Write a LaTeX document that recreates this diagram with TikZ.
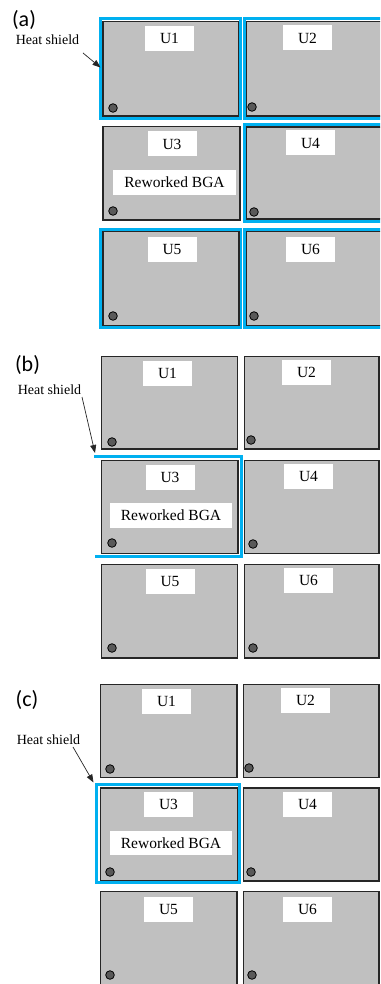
\documentclass[tikz,border=0pt]{standalone}
\usepackage{fontspec}
\setmainfont{Liberation Serif}
\newfontfamily\panelfont{Carlito}
\usetikzlibrary{arrows.meta,fit}
\definecolor{chipgray}{HTML}{C0C0C0}
\definecolor{shieldblue}{HTML}{00B0F0}
\definecolor{dotgray}{HTML}{595959}
\tikzset{
  chip/.style={draw=black!85, line width=1.6pt, fill=chipgray, inner sep=0pt},
  shieldline/.style={draw=shieldblue, line width=3.3pt},
  lbl/.style={fill=white, inner sep=0pt, minimum width=49pt, minimum height=25pt, font=\fontsize{15.5}{17}\selectfont},
  rbga/.style={lbl, minimum width=123pt},
  pin/.style={circle, draw=black, line width=0.8pt, fill=dotgray, minimum size=8.6pt, inner sep=0pt},
  panel/.style={font=\panelfont\fontsize{22}{24}\selectfont, inner sep=0pt},
  hs/.style={font=\fontsize{14}{16}\selectfont, inner sep=0pt},
  pointer/.style={draw=black!85, line width=0.7pt, -{Triangle[length=8pt,width=6pt]}}
}
\begin{document}
\begin{tikzpicture}[x=1pt,y=-1pt]
\useasboundingbox (0,0) rectangle (380,984);
\clip (0,0) rectangle (380,984);
\fill[white] (0,0) rectangle (380,984);

%% ---------------- panel (a) ----------------
\node[panel] (pa) at (24,20) {(a)};
\node[hs] (hsa) at (47.5,40) {Heat shield};
% shields
\draw[shieldline] (100.8,18.8) rectangle (240.5,118);
\draw[shieldline] (244.2,18.8) rectangle (410,118);
\draw[shieldline] (244.2,124.5) rectangle (410,221.3);
\draw[shieldline] (100.8,229.5) rectangle (240.5,327.5);
\draw[shieldline] (244.2,229.5) rectangle (410,327.5);
% chips
\node[chip, fit={(103,21.5) (238.5,115.8)}] (aU1) {};
\node[chip, fit={(246.5,21.5) (400,115.8)}] (aU2) {};
\node[chip, fit={(103,126.5) (240,220.3)}] (aU3) {};
\node[chip, fit={(246.5,127) (400,219.3)}] (aU4) {};
\node[chip, fit={(103,231.5) (239,325.5)}] (aU5) {};
\node[chip, fit={(246.5,231.5) (400,325.5)}] (aU6) {};
% labels
\node[lbl] (aL1) at (169.5,38.5) {U1};
\node[lbl] (aL2) at (307.5,38) {U2};
\node[lbl] (aL3) at (172,144) {U3};
\node[rbga] (aR) at (174.5,182.5) {Reworked BGA};
\node[lbl] (aL4) at (310.5,143) {U4};
\node[lbl] (aL5) at (172,249.5) {U5};
\node[lbl] (aL6) at (310.5,249.5) {U6};
% pins
\node[pin] (aP1) at (113,108) {};
\node[pin] (aP2) at (252,107) {};
\node[pin] (aP3) at (113,211) {};
\node[pin] (aP4) at (254,212) {};
\node[pin] (aP5) at (113,316) {};
\node[pin] (aP6) at (254,316) {};
% arrow
\coordinate (aS) at (83,53);
\coordinate (aT) at (100.5,67.5);
\draw[pointer] (aS) -- (aT);

%% ---------------- panel (b) ----------------
\node[panel] (pb) at (27.5,365) {(b)};
\node[hs] (hsb) at (49.5,389.5) {Heat shield};
\node[chip, fit={(101.5,356.5) (237.5,449)}] (bU1) {};
\node[chip, fit={(244.5,356.5) (379.2,449)}] (bU2) {};
\node[chip, fit={(101.5,460.5) (238,553.5)}] (bU3) {};
\node[chip, fit={(244.5,460.5) (379.2,553.5)}] (bU4) {};
\node[chip, fit={(101.5,564.5) (237.5,658)}] (bU5) {};
\node[chip, fit={(244.5,564.5) (379.2,658)}] (bU6) {};
\draw[shieldline, line width=3pt] (94,456.5) -- (241,456.5) -- (241,556.5) -- (95,556.5);
\node[lbl] (bL1) at (167.5,373) {U1};
\node[lbl] (bL2) at (306.5,372) {U2};
\node[lbl] (bL3) at (170,477) {U3};
\node[rbga, minimum width=122pt] (bR) at (171,515.5) {Reworked BGA};
\node[lbl] (bL4) at (308.5,476) {U4};
\node[lbl] (bL5) at (170,581) {U5};
\node[lbl] (bL6) at (308.5,580.5) {U6};
\node[pin] (bP1) at (112,442) {};
\node[pin] (bP2) at (251,440) {};
\node[pin] (bP3) at (112,543) {};
\node[pin] (bP4) at (253,544) {};
\node[pin] (bP5) at (112,648) {};
\node[pin] (bP6) at (253,648) {};
\coordinate (bS) at (82,397);
\coordinate (bT) at (95,453);
\draw[pointer] (bS) -- (bT);

%% ---------------- panel (c) ----------------
\node[panel] (pc) at (27,700) {(c)};
\node[hs] (hsc) at (48.5,740) {Heat shield};
\node[chip, fit={(100.5,684.5) (237,777.5)}] (cU1) {};
\node[chip, fit={(243.5,684.5) (379.2,777.5)}] (cU2) {};
\node[chip, fit={(100.5,788) (238,881)}] (cU3) {};
\node[chip, fit={(243.5,788) (379.2,881)}] (cU4) {};
\node[chip, fit={(100.5,891.5) (237,992)}] (cU5) {};
\node[chip, fit={(243.5,891.5) (379.2,992)}] (cU6) {};
\draw[shieldline, line width=3pt] (96.5,784.8) rectangle (239.8,882.5);
\node[lbl] (cL1) at (166.5,701.5) {U1};
\node[lbl] (cL2) at (305.5,700.5) {U2};
\node[lbl] (cL3) at (168.5,804.5) {U3};
\node[rbga, minimum width=122pt, minimum height=24pt] (cR) at (171,843) {Reworked BGA};
\node[lbl] (cL4) at (307.5,804.5) {U4};
\node[lbl] (cL5) at (168.5,909.5) {U5};
\node[lbl] (cL6) at (307.5,909.5) {U6};
\node[pin] (cP1) at (110,769) {};
\node[pin] (cP2) at (249,768) {};
\node[pin] (cP3) at (110,872) {};
\node[pin] (cP4) at (251,872) {};
\node[pin] (cP5) at (110,975) {};
\node[pin] (cP6) at (252,975) {};
\coordinate (cS) at (73,747);
\coordinate (cT) at (93.5,782.5);
\draw[pointer] (cS) -- (cT);
\end{tikzpicture}
\end{document}
